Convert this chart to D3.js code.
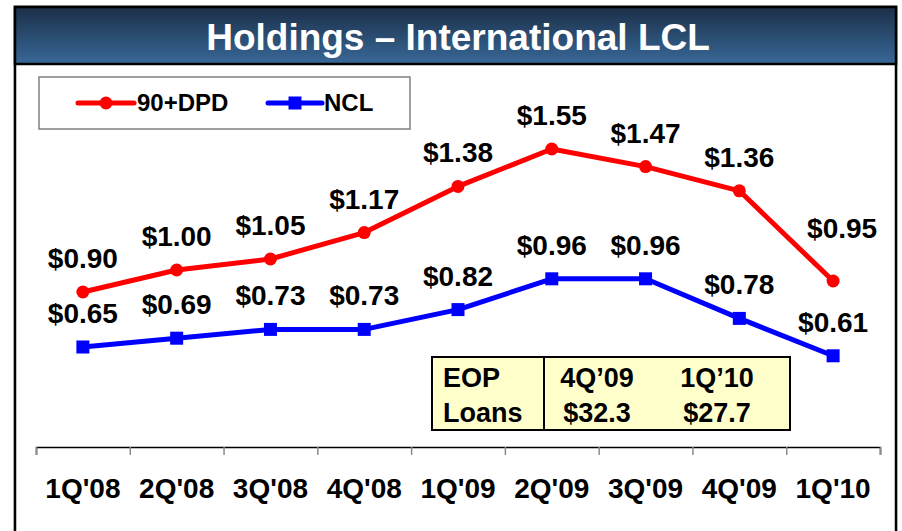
<!DOCTYPE html>
<html>
<head>
<meta charset="utf-8">
<script src="https://cdn.jsdelivr.net/npm/d3@7"></script>
<style>
  html, body { margin: 0; padding: 0; background: #fff; }
  svg { display: block; font-family: "Liberation Sans", Arial, sans-serif; }
</style>
</head>
<body>
<div id="chart"></div>
<script>
// quarters on the x axis
const quarters = ["1Q'08", "2Q'08", "3Q'08", "4Q'08", "1Q'09", "2Q'09", "3Q'09", "4Q'09", "1Q'10"];
// 90+ days past due, $B
const dpd90 = [0.90, 1.00, 1.05, 1.17, 1.38, 1.55, 1.47, 1.36, 0.95];
// net credit losses, $B
const ncl = [0.65, 0.69, 0.73, 0.73, 0.82, 0.96, 0.96, 0.78, 0.61];
// end of period loans table
const eopHead = ["EOP", "4Q\u201909", "1Q\u201910"];
const eopRow = ["Loans", "$32.3", "$27.7"];

const width = 902, height = 531;
const svg = d3.select("#chart").append("svg")
  .attr("width", width)
  .attr("height", height);

// header gradient
const grad = svg.append("defs").append("linearGradient")
  .attr("id", "hdr").attr("x1", "0%").attr("y1", "0%").attr("x2", "0%").attr("y2", "100%");
grad.append("stop").attr("offset", "0%").attr("stop-color", "#1c2f48");
grad.append("stop").attr("offset", "100%").attr("stop-color", "#386898");

// outer frame
svg.append("rect")
  .attr("x", 14).attr("y", 6).attr("width", 883).attr("height", 542)
  .attr("fill", "none").attr("stroke", "#c8c8c8").attr("stroke-width", 1);
svg.append("rect")
  .attr("x", 15).attr("y", 7).attr("width", 881).attr("height", 540)
  .attr("fill", "#fff").attr("stroke", "#000").attr("stroke-width", 2.5);
svg.append("rect")
  .attr("x", 15).attr("y", 7).attr("width", 881).attr("height", 57)
  .attr("fill", "url(#hdr)").attr("stroke", "#000").attr("stroke-width", 2.5);
svg.append("text")
  .attr("x", 458).attr("y", 50)
  .attr("text-anchor", "middle")
  .attr("fill", "#fff").attr("font-weight", "bold").attr("font-size", 37)
  .text("Holdings \u2013 International LCL");

// scales
const x = d3.scaleBand().domain(quarters).range([36, 880]);
const xi = d3.scaleLinear().domain([0, quarters.length]).range([36, 880]);
const y = d3.scaleLinear().domain([0.2, 2.0]).range([446, 50]);
const cx = (d) => x(d) + x.bandwidth() / 2;

// axis: boundary ticks
const axisG = svg.append("g").attr("transform", "translate(0,447)");
axisG.call(d3.axisBottom(xi).tickValues(d3.range(quarters.length + 1))
  .tickSize(8).tickFormat(""));
axisG.select(".domain").attr("stroke", "#000").attr("stroke-width", 1.5);
axisG.selectAll(".tick line").attr("stroke", "#8a8a8a").attr("stroke-width", 1.5);

// axis labels
const labG = svg.append("g").attr("transform", "translate(0,447)");
labG.call(d3.axisBottom(x).tickSize(0).tickPadding(0));
labG.select(".domain").remove();
labG.selectAll(".tick text")
  .attr("y", 51).attr("dy", 0)
  .attr("font-family", "Liberation Sans, Arial, sans-serif")
  .attr("font-size", 28).attr("font-weight", "bold").attr("fill", "#000");

// series
const series = [
  { name: "90+DPD", values: dpd90, color: "#ff0000", marker: "circle" },
  { name: "NCL", values: ncl, color: "#0000ff", marker: "square" }
];

const line = d3.line().x((d) => cx(d.q)).y((d) => y(d.v));

series.forEach((s) => {
  const pts = quarters.map((q, i) => ({ q: q, v: s.values[i] }));
  svg.append("path")
    .datum(pts)
    .attr("d", line)
    .attr("fill", "none")
    .attr("stroke", s.color)
    .attr("stroke-width", 5)
    .attr("stroke-linejoin", "round");

  if (s.marker === "circle") {
    svg.selectAll(null).data(pts).enter().append("circle")
      .attr("cx", (d) => cx(d.q)).attr("cy", (d) => y(d.v))
      .attr("r", 6.5).attr("fill", s.color);
  } else {
    svg.selectAll(null).data(pts).enter().append("rect")
      .attr("x", (d) => cx(d.q) - 6.5).attr("y", (d) => y(d.v) - 6.5)
      .attr("width", 13).attr("height", 13).attr("fill", s.color);
  }

  // value labels; last red one sits higher to clear the line
  svg.selectAll(null).data(pts).enter().append("text")
    .attr("x", (d, i) => cx(d.q) + (s.name === "90+DPD" && i === pts.length - 1 ? 9 : 0))
    .attr("y", (d, i) => y(d.v) - (s.name === "90+DPD" && i === pts.length - 1 ? 43 : 24))
    .attr("text-anchor", "middle")
    .attr("font-size", 28).attr("font-weight", "bold").attr("fill", "#000")
    .text((d) => "$" + d.v.toFixed(2));
});

// legend
const leg = svg.append("g");
leg.append("rect")
  .attr("x", 39).attr("y", 77).attr("width", 371).attr("height", 52)
  .attr("fill", "#fff").attr("stroke", "#808080").attr("stroke-width", 1.5);
const legPos = [{ x0: 78, x1: 134, tx: 137 }, { x0: 268, x1: 322, tx: 324 }];
series.forEach((s, i) => {
  const p = legPos[i];
  leg.append("line")
    .attr("x1", p.x0).attr("x2", p.x1).attr("y1", 103).attr("y2", 103)
    .attr("stroke", s.color).attr("stroke-width", 5).attr("stroke-linecap", "round");
  const mx = (p.x0 + p.x1) / 2;
  if (s.marker === "circle") {
    leg.append("circle").attr("cx", mx).attr("cy", 103).attr("r", 6.5).attr("fill", s.color);
  } else {
    leg.append("rect").attr("x", mx - 6.5).attr("y", 96.5).attr("width", 13).attr("height", 13).attr("fill", s.color);
  }
  leg.append("text")
    .attr("x", p.tx).attr("y", 111)
    .attr("font-size", 24).attr("font-weight", "bold").attr("fill", "#000")
    .text(s.name);
});

// EOP loans table
const tbl = svg.append("g");
tbl.append("rect")
  .attr("x", 432).attr("y", 357).attr("width", 358).attr("height", 73)
  .attr("fill", "#ffffcc").attr("stroke", "#000").attr("stroke-width", 2);
tbl.append("line")
  .attr("x1", 544).attr("x2", 544).attr("y1", 357).attr("y2", 430)
  .attr("stroke", "#000").attr("stroke-width", 2);
const colX = [443, 597, 717];
[eopHead, eopRow].forEach((row, r) => {
  row.forEach((t, c) => {
    tbl.append("text")
      .attr("x", colX[c]).attr("y", r === 0 ? 387 : 422)
      .attr("text-anchor", c === 0 ? "start" : "middle")
      .attr("font-size", 27).attr("font-weight", "bold").attr("fill", "#000")
      .text(t);
  });
});
</script>
</body>
</html>
